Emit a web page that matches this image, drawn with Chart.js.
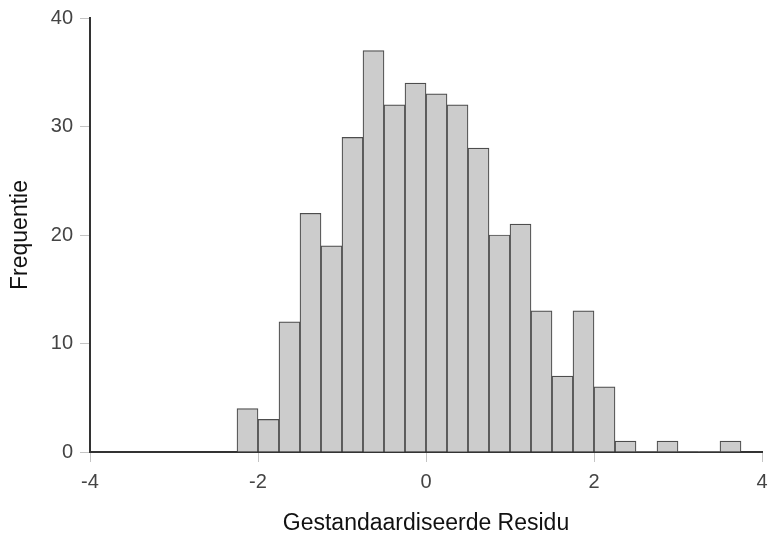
<!DOCTYPE html>
<html>
<head>
<meta charset="utf-8">
<script src="https://cdn.jsdelivr.net/npm/chart.js@4/dist/chart.umd.min.js"></script>
<style>
  html, body { margin: 0; padding: 0; background: #ffffff; }
  #wrap { width: 768px; height: 538px; }
</style>
</head>
<body>
<div id="wrap"><canvas id="histChart" width="768" height="538"></canvas></div>
<script>
// bin centres (bin width 0.25) and frequencies
const binCenters = [-2.125, -1.875, -1.625, -1.375, -1.125, -0.875, -0.625, -0.375,
  -0.125, 0.125, 0.375, 0.625, 0.875, 1.125, 1.375, 1.625, 1.875, 2.125,
  2.375, 2.625, 2.875, 3.125, 3.375, 3.625];
const frequencies = [4, 3, 12, 22, 19, 29, 37, 32, 34, 33, 32, 28, 20, 21, 13, 7, 13, 6,
  1, 0, 1, 0, 0, 1];

const xTicks = [-4, -2, 0, 2, 4];
const yTicks = [0, 10, 20, 30, 40];

const xTitle = "Gestandaardiseerde Residu";
const yTitle = "Frequentie";

const points = binCenters.map((c, i) => ({ x: c, y: frequencies[i] }));

const tickFont = { family: "'Liberation Sans', Arial, sans-serif", size: 20 };
const titleFont = { family: "'Liberation Sans', Arial, sans-serif", size: 23 };

new Chart(document.getElementById("histChart").getContext("2d"), {
  type: "bar",
  data: {
    datasets: [{
      data: points,
      backgroundColor: "#cccccc",
      borderColor: "#4d4d4d",
      borderWidth: ctx => (ctx.raw && ctx.raw.y === 0 ? 0 : 1.2),
      borderSkipped: "start",
      barPercentage: 1,
      categoryPercentage: 1
    }]
  },
  options: {
    responsive: false,
    animation: false,
    layout: { padding: { left: 0, right: 6, top: 18, bottom: 0 } },
    plugins: {
      legend: { display: false },
      tooltip: { enabled: false }
    },
    scales: {
      x: {
        type: "linear",
        offset: false,
        min: -4,
        max: 4,
        afterFit: scale => {
          scale.height = 86;
          scale.paddingLeft = 0;
          scale.paddingRight = 0;
        },
        afterBuildTicks: scale => { scale.ticks = xTicks.map(v => ({ value: v })); },
        grid: { display: true, offset: false, drawOnChartArea: false, drawTicks: true, tickLength: 10, color: "#c4c4c4" },
        border: { display: true, color: "#333333", width: 2 },
        ticks: { font: tickFont, color: "#444444", padding: 8, maxRotation: 0 },
        title: { display: true, text: xTitle, font: titleFont, color: "#111111", padding: { top: 0, bottom: 1 } }
      },
      y: {
        min: 0,
        max: 40,
        afterFit: scale => {
          scale.width = 90;
          scale.paddingTop = 0;
          scale.paddingBottom = 0;
        },
        afterBuildTicks: scale => { scale.ticks = yTicks.map(v => ({ value: v })); },
        grid: { display: true, offset: false, drawOnChartArea: false, drawTicks: true, tickLength: 10, color: "#c4c4c4" },
        border: { display: true, color: "#333333", width: 2 },
        ticks: { font: tickFont, color: "#444444", padding: 7 },
        title: { display: true, text: yTitle, font: titleFont, color: "#111111", padding: { top: 7, bottom: 0 } }
      }
    }
  }
});
</script>
</body>
</html>
